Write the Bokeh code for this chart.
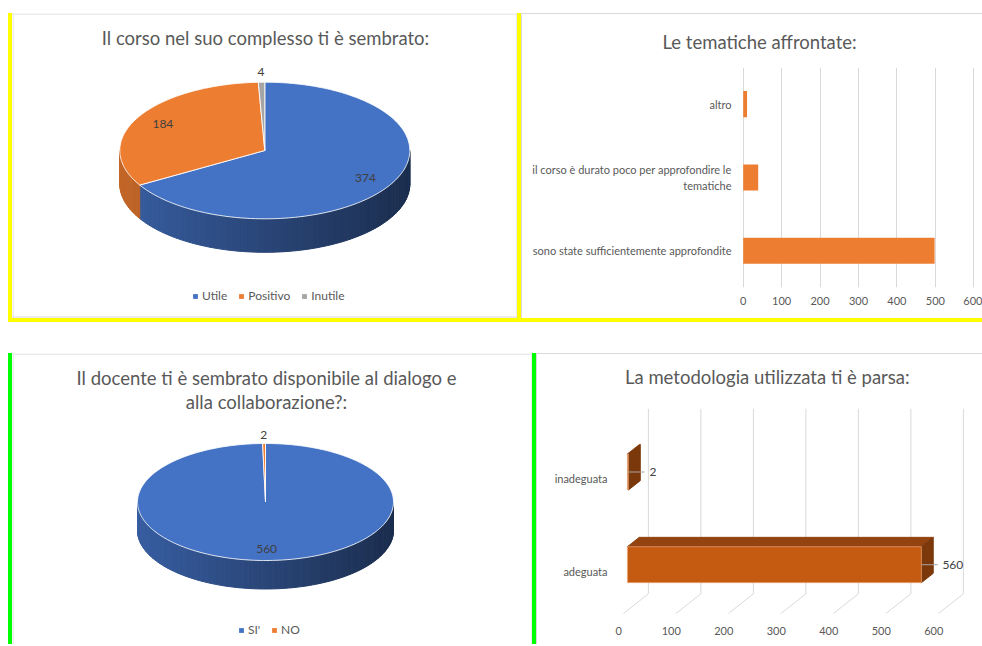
import math
import textwrap
from bokeh.plotting import figure
from bokeh.models import Range1d, Span, Legend, LegendItem, FixedTicker, Label, Spacer
from bokeh.layouts import row, column
from bokeh.embed import file_html
from bokeh.resources import INLINE
from bokeh.core.properties import value

# ---------------- data ----------------
course_title = "Il corso nel suo complesso ti è sembrato:"
course_categories = ["Utile", "Positivo", "Inutile"]
course_counts = [374, 184, 4]

topic_title = "Le tematiche affrontate:"
topic_categories = ["sono state sufficientemente approfondite",
                    "il corso è durato poco per approfondire le tematiche",
                    "altro"]
topic_counts = [498, 39, 10]
topic_ticks = [0, 100, 200, 300, 400, 500, 600]

teacher_title = ["Il docente ti è sembrato disponibile al dialogo e",
                 "alla collaborazione?:"]
teacher_categories = ["SI'", "NO"]
teacher_counts = [560, 2]

method_title = "La metodologia utilizzata ti è parsa:"
method_categories = ["adeguata", "inadeguata"]
method_counts = [560, 2]
method_ticks = [0, 100, 200, 300, 400, 500, 600]

# ---------------- styles ----------------
FONT = "Lato"
TXT = "#595959"
LBL = "#404040"
GRID = "#D9D9D9"
PIE_COLORS = ["#4472C4", "#ED7D31", "#A5A5A5"]
BAR_ORANGE = "#ED7D31"
FRONT = "#C55A11"
TOP = "#93430F"
SIDE = "#7B380B"
YELLOW = "#FFFF00"
GREEN = "#00FF00"
NAN = float("nan")


def shade(hex_color, f):
    h = hex_color.lstrip("#")
    r, g, b = (int(h[i:i + 2], 16) for i in (0, 2, 4))
    return "#%02x%02x%02x" % (min(255, round(r * f)), min(255, round(g * f)), min(255, round(b * f)))


def base_fig(w, h, xr, yr, **kw):
    p = figure(width=w, height=h, x_range=xr, y_range=yr, toolbar_location=None,
               output_backend="svg", **kw)
    p.outline_line_color = None
    p.background_fill_color = "white"
    p.border_fill_color = "white"
    return p


def pie3d(p, counts, colors, cx, cy, a, b, depth):
    total = float(sum(counts))
    slices = []
    start = 0.0
    for v in counts:
        end = start + 360.0 * v / total
        slices.append((start, end))
        start = end

    def pt(t, f=1.0):
        r = math.radians(t)
        return cx + a * f * math.sin(r), cy - b * f * math.cos(r)

    # side walls (front half)
    sx, sy, sc = [], [], []
    for (s, e), col in zip(slices, colors):
        lo, hi = max(s, 90.0), min(e, 270.0)
        if hi <= lo:
            continue
        n = max(1, int(math.ceil((hi - lo) / 1.5)))
        for k in range(n):
            t0 = lo + (hi - lo) * k / n
            t1 = lo + (hi - lo) * (k + 1) / n
            x0, y0 = pt(t0)
            x1, y1 = pt(t1)
            sx.append([x0, x1, x1, x0])
            sy.append([y0, y1, y1 + depth, y0 + depth])
            tm = ((x0 + x1) / 2 - (cx - a)) / (2 * a)
            c = shade(col, 0.82 - 0.42 * tm)
            sc.append(c)
    p.patches(sx, sy, fill_color=sc, line_color=sc, line_width=1)

    # top face
    tx_, ty_ = [], []
    for (s, e) in slices:
        n = max(2, int(math.ceil((e - s) / 1.0)) + 1)
        xs, ys = [cx], [cy]
        for k in range(n):
            x, y = pt(s + (e - s) * k / (n - 1))
            xs.append(x)
            ys.append(y)
        tx_.append(xs)
        ty_.append(ys)
    p.patches(tx_, ty_, fill_color=colors[:len(counts)], line_color="white",
              line_width=1, line_alpha=0.85)

    # data labels
    lx, ly, lt = [], [], []
    for (s, e), v in zip(slices, counts):
        f = 1.15 if v / total < 0.02 else 0.8
        x, y = pt((s + e) / 2, f)
        lx.append(x)
        ly.append(y)
        lt.append(str(v))
    p.text(lx, ly, text=lt, text_align="center", text_baseline="middle",
           text_font=value(FONT), text_font_size="12px", text_color=LBL)


def pie_legend(p, cats, colors, loc, spacing):
    items = []
    for lab, col in zip(cats, colors):
        r = p.scatter(x=[NAN], y=[NAN], marker="square", size=5, fill_color=col, line_color=None)
        items.append(LegendItem(label=lab, renderers=[r]))
    leg = Legend(items=items, orientation="horizontal", location=loc,
                 glyph_width=12, glyph_height=12, label_height=12, label_standoff=1,
                 spacing=spacing, padding=0, margin=0, border_line_color=None,
                 background_fill_alpha=0, label_text_font=FONT,
                 label_text_font_size="12px", label_text_color=TXT)
    p.add_layout(leg)


def gray_spans(p, top=None, bottom=None, left=None, right=None):
    for loc, dim in ((top, "width"), (bottom, "width"), (left, "height"), (right, "height")):
        if loc is not None:
            p.add_layout(Span(location=loc, dimension=dim, line_color=GRID, line_width=1))


# ---------------- chart 1 : pie (top-left) ----------------
p1 = base_fig(505, 305, Range1d(12, 517), Range1d(318, 13),
              x_axis_type=None, y_axis_type=None, min_border=0)
p1.grid.visible = False
gray_spans(p1, top=13.5, bottom=316.5, left=12.5, right=516.5)
p1.text([265], [37], text=[course_title], text_align="center", text_baseline="middle",
        text_font=value(FONT), text_font_size="18.5px", text_color=TXT)
pie3d(p1, course_counts, PIE_COLORS, 264.3, 150.0, 145.0, 68.3, 33.5)
pie_legend(p1, course_categories, PIE_COLORS, (177, 15), 8)

# ---------------- chart 2 : horizontal bars (top-right) ----------------
T_X0, T_K = 742.7, 0.38433      # px of value 0, px per unit
T_Y0, T_STEP = 250.3, 73.33     # px of first category, px per category


def tmx(px):
    return (px - T_X0) / T_K


def tmy(py):
    return (T_Y0 - py) / T_STEP


p2 = base_fig(460, 304, Range1d(tmx(738), tmx(982)), Range1d(tmy(287), tmy(67)),
              min_border_left=216, min_border_right=0, min_border_top=53, min_border_bottom=31,
              title=topic_title)
p2.title.align = "left"
p2.title.offset = -76
p2.title.standoff = 29
p2.title.text_font = FONT
p2.title.text_font_size = "18.5px"
p2.title.text_font_style = "normal"
p2.title.text_color = TXT

topic_pos = list(range(len(topic_categories)))
p2.hbar(y=topic_pos, left=0, right=topic_counts, height=0.355,
        fill_color=BAR_ORANGE, line_color=None)
p2.xaxis.ticker = FixedTicker(ticks=topic_ticks)
p2.xgrid.ticker = FixedTicker(ticks=topic_ticks)
p2.xgrid.grid_line_color = GRID
p2.ygrid.visible = False
p2.yaxis.ticker = FixedTicker(ticks=topic_pos)
p2.yaxis.major_label_overrides = {i: textwrap.fill(c, 42) for i, c in zip(topic_pos, topic_categories)}
for ax, so in ((p2.xaxis, 9), (p2.yaxis, 7)):
    ax.axis_line_color = None
    ax.major_tick_line_color = None
    ax.minor_tick_line_color = None
    ax.major_tick_out = 0
    ax.major_label_standoff = so
    ax.major_label_text_font = FONT
    ax.major_label_text_font_size = "11px"
    ax.major_label_text_color = TXT

# ---------------- chart 3 : pie (bottom-left) ----------------
p3 = base_fig(520, 291, Range1d(12, 532), Range1d(644, 353),
              x_axis_type=None, y_axis_type=None, min_border=0)
p3.grid.visible = False
gray_spans(p3, top=353.5, left=12.5, right=531.5)
p3.text([266, 266], [377, 401], text=teacher_title, text_align="center", text_baseline="middle",
        text_font=value(FONT), text_font_size="18.5px", text_color=TXT)
pie3d(p3, teacher_counts, PIE_COLORS, 265.0, 501.5, 128.0, 58.5, 28.5)
pie_legend(p3, teacher_categories, PIE_COLORS, (223, 7), 0)

# ---------------- chart 4 : 3D bars (bottom-right) ----------------
M_X0, M_K = 618.3, 0.525        # px of value 0 on front plane, px per unit
M_Y0, M_STEP = 571.0, 92.7      # px of first category on front plane, px per category


def mmx(px):
    return (px - M_X0) / M_K


def mmy(py):
    return (M_Y0 - py) / M_STEP


DX, DY = 29.6 / M_K, 23.4 / M_STEP          # full floor depth in data units
F0, F1 = 0.29, 0.69                          # bar front/back depth fractions
HALF = 18.0 / M_STEP
FLOOR_FRONT, FLOOR_BACK, WALL_TOP = mmy(616.7), mmy(616.7) + DY, mmy(408.3)

p4 = base_fig(445, 290, Range1d(mmx(612), mmx(982)), Range1d(mmy(613), mmy(354)),
              min_border_left=75, min_border_right=0, min_border_top=0, min_border_bottom=31)
p4.grid.visible = False
# back wall + floor grid lines
p4.segment(x0=[t + DX for t in method_ticks], y0=FLOOR_BACK,
           x1=[t + DX for t in method_ticks], y1=WALL_TOP, line_color=GRID, line_width=1)
p4.segment(x0=method_ticks, y0=FLOOR_FRONT, x1=[t + DX for t in method_ticks], y1=FLOOR_BACK,
           line_color=GRID, line_width=1)

method_pos = list(range(len(method_categories)))
ox, oy = F0 * DX, F0 * DY
ddx, ddy = (F1 - F0) * DX, (F1 - F0) * DY
lefts = [ox for _ in method_counts]
rights = [v + ox for v in method_counts]
bots = [c - HALF + oy for c in method_pos]
tops = [c + HALF + oy for c in method_pos]
# top faces
p4.patches([[l, r, r + ddx, l + ddx] for l, r in zip(lefts, rights)],
           [[t, t, t + ddy, t + ddy] for t in tops], fill_color=TOP, line_color=TOP)
# side faces
p4.patches([[r, r, r + ddx, r + ddx] for r in rights],
           [[b, t, t + ddy, b + ddy] for b, t in zip(bots, tops)], fill_color=SIDE, line_color=SIDE)
# front faces
p4.quad(left=lefts, right=rights, bottom=bots, top=tops, fill_color=FRONT,
        line_color="#F4B183", line_alpha=0.6, line_width=1)
# leader lines + data labels
mids = [c + oy for c in method_pos]
p4.segment(x0=rights, y0=mids, x1=[r + 31 for r in rights], y1=mids, line_color="#A6A6A6", line_width=1)
p4.text([r + 40 for r in rights], mids, text=[str(v) for v in method_counts], text_align="left",
        text_baseline="middle", text_font=value(FONT), text_font_size="12px", text_color=LBL)

p4.xaxis.ticker = FixedTicker(ticks=method_ticks)
p4.yaxis.ticker = FixedTicker(ticks=method_pos)
p4.yaxis.major_label_overrides = {i: c for i, c in zip(method_pos, method_categories)}
for ax, so in ((p4.xaxis, 13), (p4.yaxis, 5)):
    ax.axis_line_color = None
    ax.major_tick_line_color = None
    ax.minor_tick_line_color = None
    ax.major_tick_out = 0
    ax.major_label_standoff = so
    ax.major_label_text_font = FONT
    ax.major_label_text_font_size = "11px"
    ax.major_label_text_color = TXT
p4.add_layout(Label(x=mmx(766.8), y=mmy(376.7), text=method_title, text_align="center",
                    text_baseline="middle", text_font=FONT, text_font_size="18.5px",
                    text_color=TXT))


# ---------------- layout ----------------
def strip(w, h, color):
    return Spacer(width=w, height=h, styles={"background-color": color})


def gap(w, h):
    return Spacer(width=w, height=h)


top_row = row(gap(8, 305), strip(4, 305, YELLOW), p1, strip(4, 305, YELLOW), strip(1, 305, GRID),
              column(strip(460, 1, GRID), p2))
yellow_row = row(gap(8, 4), strip(974, 4, YELLOW))
bottom_row = row(gap(8, 291), strip(4, 291, GREEN), p3, strip(4, 291, GREEN), strip(1, 291, GRID),
                 column(strip(445, 1, GRID), p4))
layout = column(gap(982, 13), top_row, yellow_row, gap(982, 31), bottom_row)

open("out.html", "w").write(file_html(layout, INLINE))
